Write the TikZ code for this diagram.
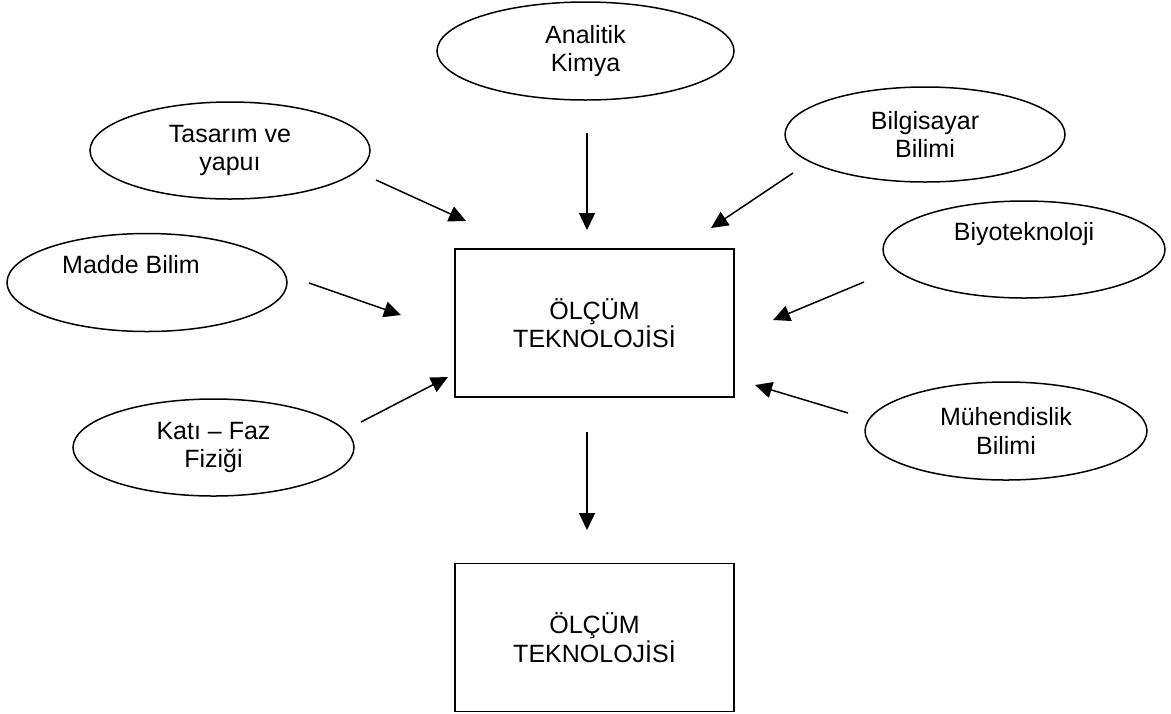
\documentclass[tikz,border=0pt]{standalone}
\usepackage{fontspec}
\setmainfont{Liberation Sans}
\usetikzlibrary{shapes.geometric,arrows.meta}
\begin{document}
\begin{tikzpicture}[x=0.5pt,y=-0.5pt,line width=0.75pt,
  font=\fontsize{12.5}{14.2}\selectfont,
  oval/.style={draw,ellipse,inner sep=0pt,align=center},
  kutu/.style={draw,rectangle,inner sep=0pt,align=center,
    minimum width=139.5pt,minimum height=74pt},
  ok/.style={-{Triangle[length=8.5pt,width=8pt]}}]
  \useasboundingbox (0,0) rectangle (1171,713);
  \node[oval,minimum width=148.5pt,minimum height=49pt] (analitik) at (585.5,51) {Analitik\\Kimya};
  \node[oval,minimum width=140pt,minimum height=48.5pt] (tasarim) at (230,150.5) {Tasarım ve\\yapuı};
  \node[oval,minimum width=140pt,minimum height=49pt] (madde) at (147,282.5) {Madde Bilim\rule{16pt}{0pt}\\\strut};
  \node[oval,minimum width=140.5pt,minimum height=48.5pt] (kati) at (213.5,447.5) {Katı – Faz\\Fiziği};
  \node[oval,minimum width=140pt,minimum height=47.5pt] (bilgisayar) at (925,134.5) {Bilgisayar\\Bilimi};
  \node[oval,minimum width=141pt,minimum height=48.5pt] (biyo) at (1024,249.5) {Biyoteknoloji\\\strut};
  \node[oval,minimum width=141pt,minimum height=49pt] (muhendis) at (1006,431) {Mühendislik\\Bilimi};
  \node[kutu] (olcum) at (594.5,323) {ÖLÇÜM\\TEKNOLOJİSİ};
  \node[kutu] (sonuc) at (594.5,637.5) {ÖLÇÜM\\TEKNOLOJİSİ};
  \coordinate (analitik-a) at (587,133);   \coordinate (analitik-b) at (587,230);
  \coordinate (tasarim-a) at (376,180);    \coordinate (tasarim-b) at (466,221);
  \coordinate (madde-a) at (309,283);      \coordinate (madde-b) at (401,315);
  \coordinate (kati-a) at (361,422);       \coordinate (kati-b) at (448,377);
  \coordinate (bilgisayar-a) at (793,173); \coordinate (bilgisayar-b) at (711,228);
  \coordinate (biyo-a) at (864,282);       \coordinate (biyo-b) at (773,320);
  \coordinate (muhendis-a) at (848,413);   \coordinate (muhendis-b) at (755,385);
  \coordinate (olcum-a) at (587,432);      \coordinate (sonuc-b) at (587,530);
  \foreach \n in {analitik,tasarim,madde,kati,bilgisayar,biyo,muhendis}
    \draw[ok] (\n-a) -- (\n-b);
  \draw[ok] (olcum-a) -- (sonuc-b);
\end{tikzpicture}
\end{document}
